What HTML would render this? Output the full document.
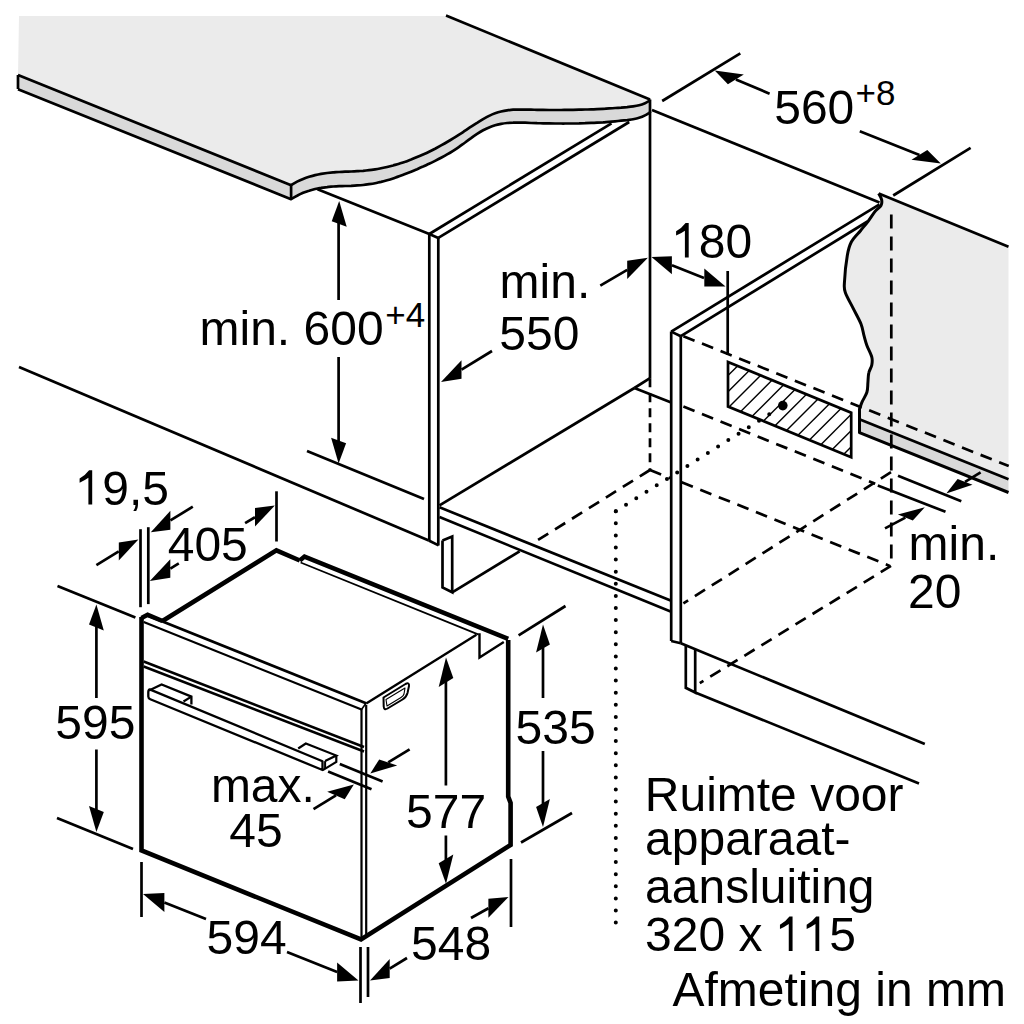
<!DOCTYPE html>
<html><head><meta charset="utf-8"><style>
html,body{margin:0;padding:0;background:#fff;}
svg{display:block;}
text{font-family:"Liberation Sans",sans-serif;fill:#000;}
</style></head><body>
<svg width="1024" height="1024" viewBox="0 0 1024 1024">
<rect width="1024" height="1024" fill="#fff"/>
<g stroke="#000" fill="none">
<path d="M19,16 L444,16 L650,99.5 L649.4,100.84071305979721 C648.7,101.2 646.7,102.5 645.0,103.2 C643.3,103.9 641.1,104.7 639.1,105.2 C637.1,105.8 635.1,106.1 633.1,106.4 C631.1,106.7 629.1,106.9 627.1,107.1 C625.1,107.2 623.1,107.4 621.1,107.6 C619.1,107.7 617.1,107.9 615.1,108.0 C613.1,108.2 611.1,108.3 609.1,108.4 C607.1,108.5 605.1,108.7 603.1,108.8 C601.1,108.9 599.1,109.0 597.1,109.1 C595.1,109.2 593.1,109.3 591.1,109.3 C589.1,109.4 587.1,109.5 585.1,109.5 C583.1,109.6 581.1,109.7 579.1,109.7 C577.1,109.8 575.1,109.8 573.1,109.8 C571.1,109.9 569.1,109.9 567.1,109.9 C565.1,109.9 563.1,110.0 561.1,110.0 C559.1,110.0 557.1,110.0 555.1,110.0 C553.1,110.0 551.1,110.0 549.1,110.0 C547.1,109.9 545.1,109.9 543.1,109.9 C541.1,109.9 539.1,109.9 537.1,109.8 C535.1,109.8 533.1,109.7 531.1,109.7 C529.1,109.7 527.1,109.6 525.1,109.6 C523.1,109.5 521.1,109.5 519.1,109.5 C517.1,109.6 515.1,109.6 513.1,109.7 C511.1,109.9 509.1,110.0 507.1,110.3 C505.1,110.6 503.1,111.0 501.1,111.5 C499.1,112.0 497.1,112.6 495.1,113.3 C493.1,114.0 491.1,114.9 489.1,115.9 C487.1,116.9 485.1,118.0 483.1,119.1 C481.1,120.3 479.1,121.5 477.1,122.8 C475.1,124.0 473.1,125.4 471.1,126.7 C469.1,128.0 467.1,129.4 465.1,130.7 C463.1,132.0 461.1,133.4 459.1,134.6 C457.1,135.9 455.1,137.2 453.1,138.4 C451.1,139.7 449.1,140.9 447.1,142.0 C445.1,143.2 443.1,144.3 441.1,145.4 C439.1,146.5 437.1,147.6 435.1,148.7 C433.1,149.7 431.1,150.7 429.1,151.7 C427.1,152.7 425.1,153.6 423.1,154.5 C421.1,155.4 419.1,156.3 417.1,157.1 C415.1,158.0 413.1,158.8 411.1,159.6 C409.1,160.3 407.1,161.1 405.1,161.8 C403.1,162.4 401.1,163.1 399.1,163.7 C397.1,164.4 395.1,164.9 393.1,165.5 C391.1,166.0 389.1,166.5 387.1,167.0 C385.1,167.5 383.1,167.9 381.1,168.3 C379.1,168.7 377.1,169.1 375.1,169.4 C373.1,169.7 371.1,170.0 369.1,170.2 C367.1,170.4 365.1,170.6 363.1,170.8 C361.1,170.9 359.1,171.1 357.1,171.2 C355.1,171.3 353.1,171.4 351.1,171.5 C349.1,171.6 347.1,171.6 345.1,171.7 C343.1,171.8 341.1,171.9 339.1,172.0 C337.1,172.1 335.1,172.3 333.1,172.4 C331.1,172.6 329.1,172.8 327.1,173.0 C325.1,173.3 323.1,173.6 321.1,173.9 C319.1,174.3 317.1,174.7 315.1,175.1 C313.1,175.6 311.1,176.2 309.1,176.8 C307.1,177.4 305.1,178.1 303.1,178.9 C301.1,179.7 299.1,180.6 297.1,181.6 C295.1,182.7 292.1,184.5 291.1,185.0 L18,75 Z" fill="#ebebeb" stroke="none"/>
<path d="M18,75 L291.1,185.2 C292.1,184.5 295.1,182.7 297.1,181.6 C299.1,180.6 301.1,179.7 303.1,178.9 C305.1,178.1 307.1,177.4 309.1,176.8 C311.1,176.2 313.1,175.6 315.1,175.1 C317.1,174.7 319.1,174.3 321.1,173.9 C323.1,173.6 325.1,173.3 327.1,173.0 C329.1,172.8 331.1,172.6 333.1,172.4 C335.1,172.3 337.1,172.1 339.1,172.0 C341.1,171.9 343.1,171.8 345.1,171.7 C347.1,171.6 349.1,171.6 351.1,171.5 C353.1,171.4 355.1,171.3 357.1,171.2 C359.1,171.1 361.1,170.9 363.1,170.8 C365.1,170.6 367.1,170.4 369.1,170.2 C371.1,170.0 373.1,169.7 375.1,169.4 C377.1,169.1 379.1,168.7 381.1,168.3 C383.1,167.9 385.1,167.5 387.1,167.0 C389.1,166.5 391.1,166.0 393.1,165.5 C395.1,164.9 397.1,164.4 399.1,163.7 C401.1,163.1 403.1,162.4 405.1,161.8 C407.1,161.1 409.1,160.3 411.1,159.6 C413.1,158.8 415.1,158.0 417.1,157.1 C419.1,156.3 421.1,155.4 423.1,154.5 C425.1,153.6 427.1,152.7 429.1,151.7 C431.1,150.7 433.1,149.7 435.1,148.7 C437.1,147.6 439.1,146.5 441.1,145.4 C443.1,144.3 445.1,143.2 447.1,142.0 C449.1,140.9 451.1,139.7 453.1,138.4 C455.1,137.2 457.1,135.9 459.1,134.6 C461.1,133.4 463.1,132.0 465.1,130.7 C467.1,129.4 469.1,128.0 471.1,126.7 C473.1,125.4 475.1,124.0 477.1,122.8 C479.1,121.5 481.1,120.3 483.1,119.1 C485.1,118.0 487.1,116.9 489.1,115.9 C491.1,114.9 493.1,114.0 495.1,113.3 C497.1,112.6 499.1,112.0 501.1,111.5 C503.1,111.0 505.1,110.6 507.1,110.3 C509.1,110.0 511.1,109.9 513.1,109.7 C515.1,109.6 517.1,109.6 519.1,109.5 C521.1,109.5 523.1,109.5 525.1,109.6 C527.1,109.6 529.1,109.7 531.1,109.7 C533.1,109.7 535.1,109.8 537.1,109.8 C539.1,109.9 541.1,109.9 543.1,109.9 C545.1,109.9 547.1,109.9 549.1,110.0 C551.1,110.0 553.1,110.0 555.1,110.0 C557.1,110.0 559.1,110.0 561.1,110.0 C563.1,110.0 565.1,109.9 567.1,109.9 C569.1,109.9 571.1,109.9 573.1,109.8 C575.1,109.8 577.1,109.8 579.1,109.7 C581.1,109.7 583.1,109.6 585.1,109.5 C587.1,109.5 589.1,109.4 591.1,109.3 C593.1,109.3 595.1,109.2 597.1,109.1 C599.1,109.0 601.1,108.9 603.1,108.8 C605.1,108.7 607.1,108.5 609.1,108.4 C611.1,108.3 613.1,108.2 615.1,108.0 C617.1,107.9 619.1,107.7 621.1,107.6 C623.1,107.4 625.1,107.2 627.1,107.1 C629.1,106.9 631.1,106.7 633.1,106.4 C635.1,106.1 637.1,105.8 639.1,105.2 C641.1,104.7 643.3,103.9 645.0,103.2 C646.7,102.5 648.7,101.2 649.4,100.8 L650,112 C648.7,113.2 646.7,114.6 645.0,115.4 C643.3,116.3 641.1,117.2 639.1,117.8 C637.1,118.4 635.1,118.8 633.1,119.2 C631.1,119.6 629.1,119.8 627.1,120.1 C625.1,120.3 623.1,120.5 621.1,120.7 C619.1,120.9 617.1,121.1 615.1,121.3 C613.1,121.5 611.1,121.7 609.1,121.8 C607.1,122.0 605.1,122.1 603.1,122.3 C601.1,122.4 599.1,122.5 597.1,122.6 C595.1,122.8 593.1,122.9 591.1,122.9 C589.1,123.0 587.1,123.1 585.1,123.2 C583.1,123.2 581.1,123.3 579.1,123.4 C577.1,123.4 575.1,123.4 573.1,123.5 C571.1,123.5 569.1,123.5 567.1,123.5 C565.1,123.5 563.1,123.6 561.1,123.5 C559.1,123.5 557.1,123.5 555.1,123.5 C553.1,123.5 551.1,123.5 549.1,123.4 C547.1,123.4 545.1,123.4 543.1,123.3 C541.1,123.3 539.1,123.2 537.1,123.2 C535.1,123.1 533.1,123.0 531.1,123.0 C529.1,122.9 527.1,122.8 525.1,122.7 C523.1,122.7 521.1,122.6 519.1,122.6 C517.1,122.6 515.1,122.6 513.1,122.7 C511.1,122.7 509.1,122.8 507.1,123.0 C505.1,123.2 503.1,123.5 501.1,123.9 C499.1,124.3 497.1,124.7 495.1,125.3 C493.1,125.9 491.1,126.6 489.1,127.4 C487.1,128.2 485.1,129.2 483.1,130.3 C481.1,131.4 479.1,132.6 477.1,133.9 C475.1,135.2 473.1,136.6 471.1,138.1 C469.1,139.5 467.1,141.0 465.1,142.5 C463.1,143.9 461.1,145.4 459.1,146.8 C457.1,148.2 455.1,149.5 453.1,150.8 C451.1,152.1 449.1,153.3 447.1,154.4 C445.1,155.6 443.1,156.7 441.1,157.8 C439.1,158.9 437.1,159.9 435.1,160.9 C433.1,161.9 431.1,162.9 429.1,163.8 C427.1,164.7 425.1,165.7 423.1,166.6 C421.1,167.4 419.1,168.3 417.1,169.2 C415.1,170.0 413.1,170.9 411.1,171.7 C409.1,172.5 407.1,173.3 405.1,174.1 C403.1,174.9 401.1,175.6 399.1,176.3 C397.1,177.1 395.1,177.7 393.1,178.4 C391.1,179.1 389.1,179.7 387.1,180.2 C385.1,180.8 383.1,181.4 381.1,181.9 C379.1,182.3 377.1,182.8 375.1,183.2 C373.1,183.6 371.1,183.9 369.1,184.2 C367.1,184.5 365.1,184.8 363.1,185.0 C361.1,185.2 359.1,185.3 357.1,185.4 C355.1,185.6 353.1,185.7 351.1,185.8 C349.1,185.8 347.1,185.9 345.1,186.0 C343.1,186.1 341.1,186.1 339.1,186.2 C337.1,186.3 335.1,186.4 333.1,186.5 C331.1,186.7 329.1,186.8 327.1,187.1 C325.1,187.3 323.1,187.5 321.1,187.9 C319.1,188.2 317.1,188.6 315.1,189.0 C313.1,189.5 311.1,190.0 309.1,190.7 C307.1,191.3 305.1,192.0 303.1,192.8 C301.1,193.7 299.1,194.6 297.1,195.7 C295.1,196.7 292.1,198.6 291.1,199.2 L18,89.3 Z" fill="#d9d9d9" stroke="none"/>
<path d="M18,75 L291.1,185.2 C292.1,184.5 295.1,182.7 297.1,181.6 C299.1,180.6 301.1,179.7 303.1,178.9 C305.1,178.1 307.1,177.4 309.1,176.8 C311.1,176.2 313.1,175.6 315.1,175.1 C317.1,174.7 319.1,174.3 321.1,173.9 C323.1,173.6 325.1,173.3 327.1,173.0 C329.1,172.8 331.1,172.6 333.1,172.4 C335.1,172.3 337.1,172.1 339.1,172.0 C341.1,171.9 343.1,171.8 345.1,171.7 C347.1,171.6 349.1,171.6 351.1,171.5 C353.1,171.4 355.1,171.3 357.1,171.2 C359.1,171.1 361.1,170.9 363.1,170.8 C365.1,170.6 367.1,170.4 369.1,170.2 C371.1,170.0 373.1,169.7 375.1,169.4 C377.1,169.1 379.1,168.7 381.1,168.3 C383.1,167.9 385.1,167.5 387.1,167.0 C389.1,166.5 391.1,166.0 393.1,165.5 C395.1,164.9 397.1,164.4 399.1,163.7 C401.1,163.1 403.1,162.4 405.1,161.8 C407.1,161.1 409.1,160.3 411.1,159.6 C413.1,158.8 415.1,158.0 417.1,157.1 C419.1,156.3 421.1,155.4 423.1,154.5 C425.1,153.6 427.1,152.7 429.1,151.7 C431.1,150.7 433.1,149.7 435.1,148.7 C437.1,147.6 439.1,146.5 441.1,145.4 C443.1,144.3 445.1,143.2 447.1,142.0 C449.1,140.9 451.1,139.7 453.1,138.4 C455.1,137.2 457.1,135.9 459.1,134.6 C461.1,133.4 463.1,132.0 465.1,130.7 C467.1,129.4 469.1,128.0 471.1,126.7 C473.1,125.4 475.1,124.0 477.1,122.8 C479.1,121.5 481.1,120.3 483.1,119.1 C485.1,118.0 487.1,116.9 489.1,115.9 C491.1,114.9 493.1,114.0 495.1,113.3 C497.1,112.6 499.1,112.0 501.1,111.5 C503.1,111.0 505.1,110.6 507.1,110.3 C509.1,110.0 511.1,109.9 513.1,109.7 C515.1,109.6 517.1,109.6 519.1,109.5 C521.1,109.5 523.1,109.5 525.1,109.6 C527.1,109.6 529.1,109.7 531.1,109.7 C533.1,109.7 535.1,109.8 537.1,109.8 C539.1,109.9 541.1,109.9 543.1,109.9 C545.1,109.9 547.1,109.9 549.1,110.0 C551.1,110.0 553.1,110.0 555.1,110.0 C557.1,110.0 559.1,110.0 561.1,110.0 C563.1,110.0 565.1,109.9 567.1,109.9 C569.1,109.9 571.1,109.9 573.1,109.8 C575.1,109.8 577.1,109.8 579.1,109.7 C581.1,109.7 583.1,109.6 585.1,109.5 C587.1,109.5 589.1,109.4 591.1,109.3 C593.1,109.3 595.1,109.2 597.1,109.1 C599.1,109.0 601.1,108.9 603.1,108.8 C605.1,108.7 607.1,108.5 609.1,108.4 C611.1,108.3 613.1,108.2 615.1,108.0 C617.1,107.9 619.1,107.7 621.1,107.6 C623.1,107.4 625.1,107.2 627.1,107.1 C629.1,106.9 631.1,106.7 633.1,106.4 C635.1,106.1 637.1,105.8 639.1,105.2 C641.1,104.7 643.3,103.9 645.0,103.2 C646.7,102.5 648.7,101.2 649.4,100.8 L650,99.5" fill="none" stroke-width="2.7" stroke-linejoin="round"/>
<path d="M18,89.3 L291.1,199.2 C292.1,198.6 295.1,196.7 297.1,195.7 C299.1,194.6 301.1,193.7 303.1,192.8 C305.1,192.0 307.1,191.3 309.1,190.7 C311.1,190.0 313.1,189.5 315.1,189.0 C317.1,188.6 319.1,188.2 321.1,187.9 C323.1,187.5 325.1,187.3 327.1,187.1 C329.1,186.8 331.1,186.7 333.1,186.5 C335.1,186.4 337.1,186.3 339.1,186.2 C341.1,186.1 343.1,186.1 345.1,186.0 C347.1,185.9 349.1,185.8 351.1,185.8 C353.1,185.7 355.1,185.6 357.1,185.4 C359.1,185.3 361.1,185.2 363.1,185.0 C365.1,184.8 367.1,184.5 369.1,184.2 C371.1,183.9 373.1,183.6 375.1,183.2 C377.1,182.8 379.1,182.3 381.1,181.9 C383.1,181.4 385.1,180.8 387.1,180.2 C389.1,179.7 391.1,179.1 393.1,178.4 C395.1,177.7 397.1,177.1 399.1,176.3 C401.1,175.6 403.1,174.9 405.1,174.1 C407.1,173.3 409.1,172.5 411.1,171.7 C413.1,170.9 415.1,170.0 417.1,169.2 C419.1,168.3 421.1,167.4 423.1,166.6 C425.1,165.7 427.1,164.7 429.1,163.8 C431.1,162.9 433.1,161.9 435.1,160.9 C437.1,159.9 439.1,158.9 441.1,157.8 C443.1,156.7 445.1,155.6 447.1,154.4 C449.1,153.3 451.1,152.1 453.1,150.8 C455.1,149.5 457.1,148.2 459.1,146.8 C461.1,145.4 463.1,143.9 465.1,142.5 C467.1,141.0 469.1,139.5 471.1,138.1 C473.1,136.6 475.1,135.2 477.1,133.9 C479.1,132.6 481.1,131.4 483.1,130.3 C485.1,129.2 487.1,128.2 489.1,127.4 C491.1,126.6 493.1,125.9 495.1,125.3 C497.1,124.7 499.1,124.3 501.1,123.9 C503.1,123.5 505.1,123.2 507.1,123.0 C509.1,122.8 511.1,122.7 513.1,122.7 C515.1,122.6 517.1,122.6 519.1,122.6 C521.1,122.6 523.1,122.7 525.1,122.7 C527.1,122.8 529.1,122.9 531.1,123.0 C533.1,123.0 535.1,123.1 537.1,123.2 C539.1,123.2 541.1,123.3 543.1,123.3 C545.1,123.4 547.1,123.4 549.1,123.4 C551.1,123.5 553.1,123.5 555.1,123.5 C557.1,123.5 559.1,123.5 561.1,123.5 C563.1,123.6 565.1,123.5 567.1,123.5 C569.1,123.5 571.1,123.5 573.1,123.5 C575.1,123.4 577.1,123.4 579.1,123.4 C581.1,123.3 583.1,123.2 585.1,123.2 C587.1,123.1 589.1,123.0 591.1,122.9 C593.1,122.9 595.1,122.8 597.1,122.6 C599.1,122.5 601.1,122.4 603.1,122.3 C605.1,122.1 607.1,122.0 609.1,121.8 C611.1,121.7 613.1,121.5 615.1,121.3 C617.1,121.1 619.1,120.9 621.1,120.7 C623.1,120.5 625.1,120.3 627.1,120.1 C629.1,119.8 631.1,119.6 633.1,119.2 C635.1,118.8 637.1,118.4 639.1,117.8 C641.1,117.2 643.3,116.3 645.0,115.4 C646.7,114.6 648.7,113.2 649.4,112.8 L650,112" fill="none" stroke-width="2.7" stroke-linejoin="round"/>
<polyline points="18.0,75.0 18.0,89.0" fill="none" stroke-width="2.7" stroke-linejoin="miter"/>
<line x1="291.1" y1="185.2" x2="291.1" y2="199.2" stroke-width="2.7" stroke-linecap="butt"/>
<line x1="650" y1="99.5" x2="650" y2="113" stroke-width="2.7" stroke-linecap="butt"/>
<line x1="446" y1="15.5" x2="650" y2="99.5" stroke-width="2.7" stroke-linecap="butt"/>
<path d="M859.5,409 C859.9,407.9 860.8,404.9 862.0,402.1 C863.2,399.3 865.9,395.6 866.9,392.3 C867.9,389.1 867.6,385.9 867.9,382.6 C868.2,379.4 868.1,375.7 868.8,372.8 C869.4,369.9 871.3,367.6 871.8,365.0 C872.3,362.4 872.6,360.4 871.8,357.2 C871.0,353.9 868.2,349.1 866.9,345.5 C865.6,341.9 865.0,339.3 864.0,335.7 C863.0,332.1 862.8,328.6 861.0,324.0 C859.2,319.4 855.8,313.6 853.2,308.4 C850.6,303.2 846.9,296.9 845.4,292.7 C843.9,288.5 844.1,289.2 844.4,283.0 C844.7,276.8 846.1,262.4 847.3,255.6 C848.4,248.8 849.1,246.2 851.3,242.0 C853.5,237.8 857.7,234.1 860.5,230.7 C863.3,227.2 865.7,224.5 868.1,221.3 C870.5,218.1 873.0,214.0 875.1,211.4 C877.2,208.8 879.9,207.5 881.0,205.5 C882.1,203.5 882.0,201.6 881.6,199.6 C881.2,197.6 879.2,194.5 878.7,193.5 L1008.5,246.5 L1008.5,479 L859.5,419.5 Z" fill="#ebebeb" stroke="none"/>
<path d="M860,419.5 L1008.5,479 L1008.5,492.5 L860,432.7 Z" fill="#d9d9d9" stroke="none"/>
<path d="M878.7,193.5 C879.2,194.5 881.2,197.6 881.6,199.6 C882.0,201.6 882.1,203.5 881.0,205.5 C879.9,207.5 877.2,208.8 875.1,211.4 C873.0,214.0 870.5,218.1 868.1,221.3 C865.7,224.5 863.3,227.2 860.5,230.7 C857.7,234.1 853.5,237.8 851.3,242.0 C849.1,246.2 848.4,248.8 847.3,255.6 C846.1,262.4 844.7,276.8 844.4,283.0 C844.1,289.2 843.9,288.5 845.4,292.7 C846.9,296.9 850.6,303.2 853.2,308.4 C855.8,313.6 859.2,319.4 861.0,324.0 C862.8,328.6 863.0,332.1 864.0,335.7 C865.0,339.3 865.6,341.9 866.9,345.5 C868.2,349.1 871.0,353.9 871.8,357.2 C872.6,360.4 872.3,362.4 871.8,365.0 C871.3,367.6 869.4,369.9 868.8,372.8 C868.1,375.7 868.2,379.4 867.9,382.6 C867.6,385.9 867.9,389.1 866.9,392.3 C865.9,395.6 863.2,399.3 862.0,402.1 C860.8,404.9 859.9,407.9 859.5,409.0 L859.5,432.7 L1008.5,492.5" fill="none" stroke-width="3" stroke-linejoin="round"/>
<line x1="860" y1="419.5" x2="1008.5" y2="479.3" stroke-width="2.7" stroke-linecap="butt"/>
<line x1="878.7" y1="193.5" x2="1008.5" y2="246.7" stroke-width="2.7" stroke-linecap="butt"/>
<line x1="652" y1="110" x2="879.5" y2="202.5" stroke-width="2.7" stroke-linecap="butt"/>
<line x1="662.2" y1="101" x2="740.3" y2="53.4" stroke-width="2.7" stroke-linecap="butt"/>
<line x1="893.2" y1="195.5" x2="970.6" y2="147.9" stroke-width="2.7" stroke-linecap="butt"/>
<line x1="769.6" y1="93.7" x2="735.8859732211511" y2="79.45290671640626" stroke-width="2.7" stroke-linecap="butt"/>
<polygon points="714.7,70.5 743.8,74.6 727.9,84.3" fill="#000" stroke="none"/>
<line x1="859.8" y1="131.2" x2="919.4268869422675" y2="154.90352789556812" stroke-width="2.7" stroke-linecap="butt"/>
<polygon points="940.8,163.4 927.3,150.0 911.5,159.8" fill="#000" stroke="none"/>
<line x1="317.5" y1="189.3" x2="429.3" y2="234" stroke-width="2.7" stroke-linecap="butt"/>
<line x1="429.3" y1="234" x2="438.3" y2="237.9" stroke-width="2.7" stroke-linecap="butt"/>
<line x1="429.3" y1="234" x2="611.5" y2="123.3" stroke-width="2.7" stroke-linecap="butt"/>
<line x1="438.3" y1="237.9" x2="629.2" y2="122" stroke-width="2.7" stroke-linecap="butt"/>
<line x1="429.3" y1="234" x2="429.3" y2="540.5" stroke-width="2.7" stroke-linecap="butt"/>
<line x1="438.3" y1="237.9" x2="438.3" y2="545.4" stroke-width="2.7" stroke-linecap="butt"/>
<line x1="428.8" y1="540.5" x2="438.6" y2="545.4" stroke-width="2.7" stroke-linecap="butt"/>
<line x1="19" y1="367" x2="428.8" y2="540.5" stroke-width="2.7" stroke-linecap="butt"/>
<line x1="338.6" y1="223" x2="338.6" y2="300" stroke-width="2.7" stroke-linecap="butt"/>
<line x1="338.6" y1="357" x2="338.6" y2="441" stroke-width="2.7" stroke-linecap="butt"/>
<polygon points="339.2,201.0 346.7,226.8 331.7,221.2" fill="#000" stroke="none"/>
<polygon points="338.6,463.5 346.1,443.3 331.1,437.7" fill="#000" stroke="none"/>
<line x1="307" y1="451" x2="424" y2="499" stroke-width="2.7" stroke-linecap="butt"/>
<line x1="650" y1="112" x2="650" y2="378.2" stroke-width="2.7" stroke-linecap="butt"/>
<line x1="650" y1="378.2" x2="650" y2="470" stroke-width="2.7" stroke-linecap="butt" stroke-dasharray="9,6"/>
<line x1="439.5" y1="505.4" x2="634.4" y2="388" stroke-width="2.7" stroke-linecap="butt"/>
<line x1="634.4" y1="388" x2="650" y2="378.2" stroke-width="2.7" stroke-linecap="butt"/>
<line x1="634.4" y1="388" x2="671.2" y2="402.5" stroke-width="2.7" stroke-linecap="butt"/>
<line x1="439.5" y1="507.3" x2="671.2" y2="600.8" stroke-width="2.7" stroke-linecap="butt"/>
<line x1="439.5" y1="517.1" x2="671.2" y2="611.8" stroke-width="2.7" stroke-linecap="butt"/>
<polyline points="442.5,540.5 442.5,587.4 452.2,592.3 452.2,536.6 442.5,540.5" fill="none" stroke-width="2.7" stroke-linejoin="miter"/>
<line x1="452.2" y1="592.3" x2="519.6" y2="551.3" stroke-width="2.7" stroke-linecap="butt"/>
<line x1="650" y1="470" x2="537.2" y2="540.5" stroke-width="2.7" stroke-linecap="butt" stroke-dasharray="12,8"/>
<line x1="650" y1="470" x2="671.2" y2="478.6" stroke-width="2.7" stroke-linecap="butt" stroke-dasharray="12,8"/>
<line x1="600.3" y1="285.7" x2="627.1945943417568" y2="269.936151635819" stroke-width="2.7" stroke-linecap="butt"/>
<polygon points="647.9,257.8 627.2,279.1 627.2,260.7" fill="#000" stroke="none"/>
<line x1="492" y1="351" x2="461.5085265953118" y2="369.53403285383007" stroke-width="2.7" stroke-linecap="butt"/>
<polygon points="441.0,382.0 461.5,378.7 461.5,360.3" fill="#000" stroke="none"/>
<line x1="704" y1="278" x2="671.9398848372458" y2="265.2370208209226" stroke-width="2.7" stroke-linecap="butt"/>
<polygon points="651.5,257.1 671.9,274.2 671.9,256.2" fill="#000" stroke="none"/>
<polygon points="725.5,286.4 704.3,286.5 704.3,268.5" fill="#000" stroke="none"/>
<line x1="727.7" y1="271" x2="727.7" y2="355" stroke-width="2.7" stroke-linecap="butt"/>
<line x1="671.2" y1="331.6" x2="671.2" y2="641" stroke-width="2.7" stroke-linecap="butt"/>
<line x1="680.8" y1="336.2" x2="680.8" y2="643.3" stroke-width="2.7" stroke-linecap="butt"/>
<line x1="671.2" y1="331.6" x2="680.8" y2="336.2" stroke-width="2.7" stroke-linecap="butt"/>
<line x1="671.2" y1="331.6" x2="879.5" y2="204.3" stroke-width="2.7" stroke-linecap="butt"/>
<line x1="680.8" y1="336.2" x2="867.5" y2="221.5" stroke-width="2.7" stroke-linecap="butt"/>
<line x1="671.2" y1="641" x2="680.8" y2="643.3" stroke-width="2.7" stroke-linecap="butt"/>
<polyline points="685.8,645.6 685.8,687.8 695.2,692.5 695.2,650.0" fill="none" stroke-width="2.7" stroke-linejoin="miter"/>
<line x1="680.8" y1="643.3" x2="924.8" y2="744" stroke-width="2.7" stroke-linecap="butt"/>
<line x1="695.2" y1="692.5" x2="919" y2="783.5" stroke-width="2.7" stroke-linecap="butt"/>
<line x1="683.4" y1="336.2" x2="1008.7" y2="466.1" stroke-width="2.7" stroke-linecap="butt" stroke-dasharray="12,8"/>
<line x1="681.7" y1="482.2" x2="889.7" y2="565.9" stroke-width="2.7" stroke-linecap="butt" stroke-dasharray="12,8"/>
<line x1="683.4" y1="406.6" x2="875.2" y2="483.7" stroke-width="2.7" stroke-linecap="butt" stroke-dasharray="12,8"/>
<line x1="891" y1="472.2" x2="683.4" y2="603.4" stroke-width="2.7" stroke-linecap="butt" stroke-dasharray="12,8"/>
<line x1="891" y1="565.9" x2="699.8" y2="683.1" stroke-width="2.7" stroke-linecap="butt" stroke-dasharray="12,8"/>
<line x1="891.3" y1="214.6" x2="891.3" y2="565.9" stroke-width="2.7" stroke-linecap="butt" stroke-dasharray="14,8"/>
<line x1="898" y1="475.8" x2="961.3" y2="501.3" stroke-width="2.7" stroke-linecap="butt"/>
<line x1="877.8" y1="485.5" x2="945.5" y2="511.8" stroke-width="2.7" stroke-linecap="butt"/>
<line x1="980.6" y1="472.3" x2="965.0383584545956" y2="481.872904857377" stroke-width="2.7" stroke-linecap="butt"/>
<polygon points="946.3,493.4 972.5,484.8 957.6,478.9" fill="#000" stroke="none"/>
<line x1="885" y1="528.4" x2="905.3626087935481" y2="517.6047475994004" stroke-width="2.7" stroke-linecap="butt"/>
<polygon points="924.8,507.3 912.8,520.6 897.9,514.6" fill="#000" stroke="none"/>
<clipPath id="hc"><polygon points="728,362 851.2,412.7 851.2,457.2 728,406.5"/></clipPath>
<g clip-path="url(#hc)"><line x1="504.0" y1="470" x2="614.0" y2="360" stroke-width="1.4"/><line x1="520.2" y1="470" x2="630.2" y2="360" stroke-width="1.4"/><line x1="536.4" y1="470" x2="646.4" y2="360" stroke-width="1.4"/><line x1="552.6" y1="470" x2="662.6" y2="360" stroke-width="1.4"/><line x1="568.8" y1="470" x2="678.8" y2="360" stroke-width="1.4"/><line x1="585.0" y1="470" x2="695.0" y2="360" stroke-width="1.4"/><line x1="601.2" y1="470" x2="711.2" y2="360" stroke-width="1.4"/><line x1="617.4" y1="470" x2="727.4" y2="360" stroke-width="1.4"/><line x1="633.6" y1="470" x2="743.6" y2="360" stroke-width="1.4"/><line x1="649.8" y1="470" x2="759.8" y2="360" stroke-width="1.4"/><line x1="666.0" y1="470" x2="776.0" y2="360" stroke-width="1.4"/><line x1="682.2" y1="470" x2="792.2" y2="360" stroke-width="1.4"/><line x1="698.4" y1="470" x2="808.4" y2="360" stroke-width="1.4"/><line x1="714.6" y1="470" x2="824.6" y2="360" stroke-width="1.4"/><line x1="730.8" y1="470" x2="840.8" y2="360" stroke-width="1.4"/><line x1="747.0" y1="470" x2="857.0" y2="360" stroke-width="1.4"/><line x1="763.2" y1="470" x2="873.2" y2="360" stroke-width="1.4"/><line x1="779.4" y1="470" x2="889.4" y2="360" stroke-width="1.4"/><line x1="795.6" y1="470" x2="905.6" y2="360" stroke-width="1.4"/><line x1="811.8" y1="470" x2="921.8" y2="360" stroke-width="1.4"/><line x1="828.0" y1="470" x2="938.0" y2="360" stroke-width="1.4"/><line x1="844.2" y1="470" x2="954.2" y2="360" stroke-width="1.4"/><line x1="860.4" y1="470" x2="970.4" y2="360" stroke-width="1.4"/><line x1="876.6" y1="470" x2="986.6" y2="360" stroke-width="1.4"/><line x1="892.8" y1="470" x2="1002.8" y2="360" stroke-width="1.4"/><line x1="909.0" y1="470" x2="1019.0" y2="360" stroke-width="1.4"/><line x1="925.2" y1="470" x2="1035.2" y2="360" stroke-width="1.4"/><line x1="941.4" y1="470" x2="1051.4" y2="360" stroke-width="1.4"/><line x1="957.5999999999999" y1="470" x2="1067.6" y2="360" stroke-width="1.4"/><line x1="973.8" y1="470" x2="1083.8" y2="360" stroke-width="1.4"/><line x1="990.0" y1="470" x2="1100.0" y2="360" stroke-width="1.4"/><line x1="1006.2" y1="470" x2="1116.2" y2="360" stroke-width="1.4"/><line x1="1022.4" y1="470" x2="1132.4" y2="360" stroke-width="1.4"/><line x1="1038.6" y1="470" x2="1148.6" y2="360" stroke-width="1.4"/><line x1="1054.8" y1="470" x2="1164.8" y2="360" stroke-width="1.4"/><line x1="1071.0" y1="470" x2="1181.0" y2="360" stroke-width="1.4"/><line x1="1087.2" y1="470" x2="1197.2" y2="360" stroke-width="1.4"/><line x1="1103.4" y1="470" x2="1213.4" y2="360" stroke-width="1.4"/><line x1="1119.6" y1="470" x2="1229.6" y2="360" stroke-width="1.4"/><line x1="1135.8" y1="470" x2="1245.8" y2="360" stroke-width="1.4"/></g>
<polygon points="728.0,362.0 851.2,412.7 851.2,457.2 728.0,406.5" fill="none" stroke-width="2.7" stroke-linejoin="miter"/>
<circle cx="782.8" cy="405.6" r="4.8" fill="#000" stroke="none"/>
<line x1="615.8" y1="511.2" x2="615.8" y2="926" stroke-width="4" stroke-linecap="round" stroke-dasharray="0,12.1"/>
<line x1="615.8" y1="511.2" x2="772" y2="412.5" stroke-width="4" stroke-linecap="round" stroke-dasharray="0,12.1"/>
<polyline points="141.5,617.0 141.5,850.5 361.0,939.5 510.6,844.9 510.6,803.0 508.2,796.5 508.2,640.0" fill="none" stroke-width="4.6" stroke-linejoin="miter"/>
<polyline points="141.5,618.0 147.6,614.8 162.5,621.0" fill="none" stroke-width="4.6" stroke-linejoin="miter"/>
<polyline points="162.5,621.0 276.4,550.3 299.8,560.5" fill="none" stroke-width="4.6" stroke-linejoin="miter"/>
<polyline points="299.8,560.5 304.5,556.6 508.2,638.8" fill="none" stroke-width="4.6" stroke-linejoin="miter"/>
<line x1="300.6" y1="562.5" x2="478.7" y2="634.7" stroke-width="1.8" stroke-linecap="butt"/>
<line x1="147.6" y1="615.5" x2="366" y2="703.2" stroke-width="2.8" stroke-linecap="butt"/>
<line x1="143.7" y1="622" x2="361.5" y2="709.5" stroke-width="2.2" stroke-linecap="butt"/>
<line x1="361.5" y1="709.5" x2="366" y2="703.2" stroke-width="1.6" stroke-linecap="butt"/>
<line x1="361.5" y1="709" x2="361.5" y2="939" stroke-width="2.2" stroke-linecap="butt"/>
<line x1="366.2" y1="705" x2="366.2" y2="936" stroke-width="2.2" stroke-linecap="butt"/>
<line x1="143.7" y1="661.5" x2="364" y2="747" stroke-width="2.5" stroke-linecap="butt"/>
<line x1="143.7" y1="666.5" x2="364" y2="751.5" stroke-width="2.5" stroke-linecap="butt"/>
<line x1="366.2" y1="703.6" x2="476.4" y2="634.8" stroke-width="2.4" stroke-linecap="butt"/>
<polyline points="479.5,633.3 479.5,657.5 503.8,641.9" fill="none" stroke-width="2.4" stroke-linejoin="miter"/>
<path d="M383.5,697.5 L405.5,684 Q409.5,682 409,686 L407.5,693 Q406.5,697 402.5,699.5 L387.5,708.5 Q384,710.5 383.7,706.5 Z" fill="none" stroke-width="2" stroke-linejoin="round"/>
<path d="M386,699.5 L405,688 L404,694 Q403.5,696 401,697.5 L387,706 Z" fill="none" stroke-width="1.1" stroke-linejoin="round"/>
<path d="M150.3,689.6 L322.5,761.3 L322.5,770 L150.3,699.2 Q148.3,698.4 148.3,696.5 L148.3,692 Q148.3,689 150.3,689.6 Z" fill="none" stroke-width="2.3" stroke-linejoin="round"/>
<polyline points="149.0,690.5 161.6,684.5 191.4,696.6 191.4,704.5" fill="none" stroke-width="2.3" stroke-linejoin="miter"/>
<line x1="191.4" y1="696.6" x2="183.5" y2="701.5" stroke-width="2.2" stroke-linecap="butt"/>
<polyline points="298.2,748.5 305.8,743.5 336.3,755.5 325.1,761.1" fill="none" stroke-width="2.2" stroke-linejoin="miter"/>
<polyline points="336.3,755.5 336.3,762.0 322.8,770.1" fill="none" stroke-width="2.2" stroke-linejoin="miter"/>
<line x1="325.1" y1="761.1" x2="325.1" y2="769" stroke-width="2" stroke-linecap="butt"/>
<line x1="140.5" y1="529.2" x2="140.5" y2="607.2" stroke-width="2.7" stroke-linecap="butt"/>
<line x1="148.3" y1="527.2" x2="148.3" y2="604.1" stroke-width="2.7" stroke-linecap="butt"/>
<line x1="276.5" y1="491.3" x2="276.5" y2="541.5" stroke-width="2.7" stroke-linecap="butt"/>
<line x1="96.4" y1="565.1" x2="118.76066047023141" y2="551.4706450467161" stroke-width="2.7" stroke-linecap="butt"/>
<polygon points="138.4,539.5 118.8,560.4 118.8,542.6" fill="#000" stroke="none"/>
<line x1="192.8" y1="506.7" x2="170.43933952976863" y2="520.3293549532839" stroke-width="2.7" stroke-linecap="butt"/>
<polygon points="150.8,532.3 170.4,529.8 170.4,510.8" fill="#000" stroke="none"/>
<line x1="178.8" y1="563.4" x2="170.3171418391924" y2="568.5482173665591" stroke-width="2.7" stroke-linecap="butt"/>
<polygon points="149.8,581.0 170.3,577.8 170.3,559.2" fill="#000" stroke="none"/>
<line x1="245.1" y1="523.1" x2="254.98409427599327" y2="517.2760387262666" stroke-width="2.7" stroke-linecap="butt"/>
<polygon points="274.8,505.6 255.0,526.6 255.0,508.0" fill="#000" stroke="none"/>
<line x1="57.5" y1="586" x2="135.4" y2="617.4" stroke-width="2.7" stroke-linecap="butt"/>
<line x1="57" y1="818" x2="133" y2="849" stroke-width="2.7" stroke-linecap="butt"/>
<line x1="96.4" y1="627" x2="96.4" y2="698" stroke-width="2.7" stroke-linecap="butt"/>
<line x1="96.4" y1="749.5" x2="96.4" y2="810" stroke-width="2.7" stroke-linecap="butt"/>
<polygon points="96.4,604.5 103.8,630.5 89.0,624.5" fill="#000" stroke="none"/>
<polygon points="96.4,832.0 103.8,812.0 89.0,806.0" fill="#000" stroke="none"/>
<line x1="141.5" y1="862" x2="141.5" y2="917" stroke-width="2.7" stroke-linecap="butt"/>
<line x1="360.5" y1="947" x2="360.5" y2="1003" stroke-width="2.7" stroke-linecap="butt"/>
<line x1="206" y1="919" x2="164.37828635690158" y2="902.4834469670244" stroke-width="2.7" stroke-linecap="butt"/>
<polygon points="143.0,894.0 164.4,912.0 164.4,893.0" fill="#000" stroke="none"/>
<line x1="287" y1="952" x2="337.1347476905782" y2="971.9837805479928" stroke-width="2.7" stroke-linecap="butt"/>
<polygon points="358.5,980.5 337.1,981.5 337.1,962.5" fill="#000" stroke="none"/>
<line x1="368" y1="947" x2="368" y2="997" stroke-width="2.7" stroke-linecap="butt"/>
<line x1="511" y1="859" x2="511" y2="927" stroke-width="2.7" stroke-linecap="butt"/>
<line x1="407" y1="958" x2="389.65169309400943" y2="968.5496460914808" stroke-width="2.7" stroke-linecap="butt"/>
<polygon points="370.0,980.5 389.7,978.0 389.7,959.0" fill="#000" stroke="none"/>
<line x1="471" y1="918" x2="488.43236163315646" y2="908.2378774854324" stroke-width="2.7" stroke-linecap="butt"/>
<polygon points="508.5,897.0 488.4,917.7 488.4,898.7" fill="#000" stroke="none"/>
<line x1="445.9" y1="681" x2="445.9" y2="785.5" stroke-width="2.7" stroke-linecap="butt"/>
<line x1="445.9" y1="835.5" x2="445.9" y2="862" stroke-width="2.7" stroke-linecap="butt"/>
<polygon points="446.0,657.5 453.3,678.1 438.7,686.9" fill="#000" stroke="none"/>
<polygon points="446.0,883.8 453.3,854.4 438.7,863.2" fill="#000" stroke="none"/>
<line x1="543" y1="647.5" x2="543" y2="698" stroke-width="2.7" stroke-linecap="butt"/>
<line x1="543" y1="751" x2="543" y2="805" stroke-width="2.7" stroke-linecap="butt"/>
<polygon points="543.0,624.5 549.9,644.4 536.1,652.6" fill="#000" stroke="none"/>
<polygon points="543.0,827.0 549.9,798.9 536.1,807.1" fill="#000" stroke="none"/>
<line x1="518.6" y1="635.3" x2="565.5" y2="606" stroke-width="2.7" stroke-linecap="butt"/>
<line x1="521" y1="842.5" x2="572" y2="813" stroke-width="2.7" stroke-linecap="butt"/>
<line x1="339.8" y1="764" x2="382.6" y2="781.6" stroke-width="2.7" stroke-linecap="butt"/>
<line x1="328.1" y1="771.6" x2="371.5" y2="789.2" stroke-width="2.7" stroke-linecap="butt"/>
<line x1="409.6" y1="749.3" x2="388.20200705728433" y2="762.4219244254313" stroke-width="2.7" stroke-linecap="butt"/>
<polygon points="370.3,773.4 397.2,765.5 379.2,759.4" fill="#000" stroke="none"/>
<line x1="313.5" y1="809.1" x2="335.963545202419" y2="795.4217026737746" stroke-width="2.7" stroke-linecap="butt"/>
<polygon points="353.9,784.5 344.7,799.2 327.2,791.7" fill="#000" stroke="none"/>
</g>
<g>
<text x="774.20" y="124" font-size="48" text-anchor="start" transform="matrix(1,0,0,1.015,0,-1.86)">560</text>
<text x="855.50" y="105.4" font-size="35" text-anchor="start" transform="matrix(1,0,0,1.015,0,-1.58)">+8</text>
<text x="199.50" y="344.75" font-size="48" text-anchor="start" transform="matrix(1,0,0,1.001,0,-0.34)">min.</text>
<text x="303.52" y="344.75" font-size="48" text-anchor="start" transform="matrix(1,0,0,1.015,0,-5.17)">600</text>
<text x="385.20" y="326.6" font-size="35" text-anchor="start" transform="matrix(1,0,0,1.015,0,-4.90)">+4</text>
<text x="499.60" y="297.9" font-size="48" text-anchor="start" transform="matrix(1,0,0,1.001,0,-0.30)">min.</text>
<text x="499.30" y="350.4" font-size="48" text-anchor="start" transform="matrix(1,0,0,1.015,0,-5.26)">550</text>
<path d="M688.70,257.5 L684.90,257.5 L684.90,230.70 Q681.00,233.50 676.10,235.60 L676.10,231.30 Q682.00,228.00 685.60,223.10 L688.70,223.10 Z" fill="#000"/>
<text x="698.70" y="257.5" font-size="48" text-anchor="start" transform="matrix(1,0,0,1.015,0,-3.86)">80</text>
<path d="M92.20,504.6 L88.40,504.6 L88.40,477.80 Q84.50,480.60 79.60,482.70 L79.60,478.40 Q85.50,475.10 89.10,470.20 L92.20,470.20 Z" fill="#000"/>
<text x="102.20" y="504.6" font-size="48" text-anchor="start" transform="matrix(1,0,0,1.015,0,-7.57)">9,5</text>
<text x="167.70" y="561.5" font-size="48" text-anchor="start" transform="matrix(1,0,0,1.015,0,-8.42)">405</text>
<text x="55.30" y="738.8" font-size="48" text-anchor="start" transform="matrix(1,0,0,1.015,0,-11.08)">595</text>
<text x="515.50" y="744" font-size="48" text-anchor="start" transform="matrix(1,0,0,1.015,0,-11.16)">535</text>
<text x="406.00" y="828" font-size="48" text-anchor="start" transform="matrix(1,0,0,1.015,0,-12.42)">577</text>
<text x="210.90" y="801.9" font-size="48" text-anchor="start" transform="matrix(1,0,0,1.001,0,-0.80)">max.</text>
<text x="229.30" y="847.2" font-size="48" text-anchor="start" transform="matrix(1,0,0,1.015,0,-12.71)">45</text>
<text x="206.50" y="954" font-size="48" text-anchor="start" transform="matrix(1,0,0,1.015,0,-14.31)">594</text>
<text x="411.00" y="960" font-size="48" text-anchor="start" transform="matrix(1,0,0,1.015,0,-14.40)">548</text>
<text x="908.60" y="560.5" font-size="48" text-anchor="start" transform="matrix(1,0,0,1.001,0,-0.56)">min.</text>
<text x="908.00" y="608" font-size="48" text-anchor="start" transform="matrix(1,0,0,1.015,0,-9.12)">20</text>
<text x="644.80" y="810.7" font-size="48" text-anchor="start" transform="matrix(1,0,0,1.001,0,-0.81)">Ruimte voor</text>
<text x="645.10" y="855.3" font-size="48" text-anchor="start" transform="matrix(1,0,0,1.001,0,-0.86)">apparaat-</text>
<text x="645.10" y="902.6" font-size="48" text-anchor="start" transform="matrix(1,0,0,1.001,0,-0.90)">aansluiting</text>
<text x="645.10" y="950.9" font-size="48" text-anchor="start" transform="matrix(1,0,0,1.015,0,-14.26)">320</text>
<text x="738.52" y="950.9" font-size="48" text-anchor="start" transform="matrix(1,0,0,1.001,0,-0.95)">x</text>
<path d="M792.56,950.9 L788.76,950.9 L788.76,924.10 Q784.86,926.90 779.96,929.00 L779.96,924.70 Q785.86,921.40 789.46,916.50 L792.56,916.50 Z" fill="#000"/>
<path d="M819.26,950.9 L815.46,950.9 L815.46,924.10 Q811.56,926.90 806.66,929.00 L806.66,924.70 Q812.56,921.40 816.16,916.50 L819.26,916.50 Z" fill="#000"/>
<text x="829.25" y="950.9" font-size="48" text-anchor="start" transform="matrix(1,0,0,1.015,0,-14.26)">5</text>
<text x="672.50" y="1005.7" font-size="48" text-anchor="start" transform="matrix(1,0,0,1.001,0,-1.01)">Afmeting in mm</text>
</g>
</svg>
</body></html>
